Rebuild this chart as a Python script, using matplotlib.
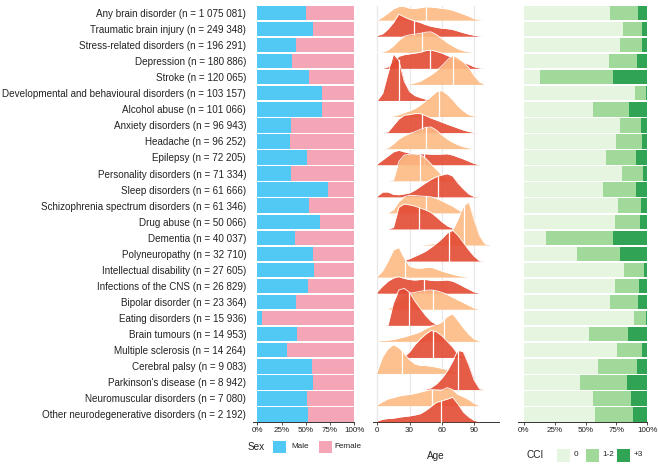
import matplotlib
matplotlib.use("Agg")
import matplotlib.pyplot as plt
import numpy as np
from matplotlib.patches import Rectangle

plt.rcParams["font.family"] = ["Liberation Sans", "DejaVu Sans"]

disorders = [
    "Any brain disorder", "Traumatic brain injury", "Stress-related disorders",
    "Depression", "Stroke", "Developmental and behavioural disorders",
    "Alcohol abuse", "Anxiety disorders", "Headache", "Epilepsy",
    "Personality disorders", "Sleep disorders", "Schizophrenia spectrum disorders",
    "Drug abuse", "Dementia", "Polyneuropathy", "Intellectual disability",
    "Infections of the CNS", "Bipolar disorder", "Eating disorders",
    "Brain tumours", "Multiple sclerosis", "Cerebral palsy",
    "Parkinson's disease", "Neuromuscular disorders",
    "Other neurodegenerative disorders",
]
n_cases = [1075081, 249348, 196291, 180886, 120065, 103157, 101066, 96943,
           96252, 72205, 71334, 61666, 61346, 50066, 40037, 32710, 27605,
           26829, 23364, 15936, 14953, 14264, 9083, 8942, 7080, 2192]

male_pct = [50.2, 57.4, 39.5, 35.7, 53.3, 66.7, 66.5, 34.7, 33.3, 51.2, 34.4,
            72.9, 53.3, 64.6, 38.8, 57.7, 58.4, 52.2, 40.2, 4.5, 41.2, 30.9,
            56.4, 57.0, 51.5, 51.9]
female_pct = [49.8, 42.6, 60.5, 64.3, 46.7, 33.3, 33.5, 65.3, 66.7, 48.8, 65.6,
              27.1, 46.7, 35.4, 61.2, 42.3, 41.6, 47.8, 59.8, 95.5, 58.8, 69.1,
              43.6, 43.0, 48.5, 48.1]

cci_0 = [70.0, 80.5, 78.1, 68.9, 13.0, 89.7, 55.7, 77.8, 74.9, 66.5, 79.2,
         64.3, 76.2, 73.5, 17.8, 42.7, 81.1, 73.5, 70.0, 88.9, 52.7, 75.7,
         59.7, 45.7, 55.9, 57.3]
cci_12 = [22.4, 15.4, 17.6, 23.0, 59.2, 9.2, 29.4, 17.3, 20.5, 24.3, 17.0,
          26.5, 18.7, 20.6, 54.6, 35.1, 16.2, 19.7, 22.4, 10.0, 31.9, 19.7,
          31.7, 37.8, 31.1, 31.3]
cci_3 = [7.6, 4.1, 4.3, 8.1, 27.8, 1.1, 14.9, 4.9, 4.6, 9.2, 3.8, 9.2, 5.1,
         5.9, 27.6, 22.2, 2.7, 6.8, 7.6, 1.1, 15.4, 4.6, 8.6, 16.5, 13.0, 11.4]
cci_labels = ["0", "1-2", "+3"]

# age density per disorder (height in row units) at 0, 5, ..., 105 years
age_grid = [0, 5, 10, 15, 20, 25, 30, 35, 40, 45, 50, 55, 60, 65, 70, 75,
            80, 85, 90, 95, 100, 105]
age_density = [
    [0, 0.2, 0.45, 0.7, 0.85, 0.85, 0.75, 0.72, 0.78, 0.83, 0.82, 0.78, 0.74, 0.7, 0.62, 0.5, 0.38, 0.25, 0.1, 0.02, 0, 0],
    [0.05, 0.15, 0.45, 0.85, 1.37, 1.2, 1.05, 0.95, 0.85, 0.72, 0.62, 0.55, 0.5, 0.47, 0.42, 0.32, 0.22, 0.13, 0.06, 0.01, 0, 0],
    [0, 0.02, 0.15, 0.4, 0.75, 1.0, 1.08, 1.12, 1.18, 1.25, 1.27, 1.1, 0.85, 0.6, 0.4, 0.22, 0.1, 0.03, 0, 0, 0, 0],
    [0, 0, 0.1, 0.45, 0.75, 0.85, 0.9, 0.95, 1.0, 1.1, 1.13, 1.05, 0.95, 0.8, 0.68, 0.52, 0.38, 0.25, 0.1, 0.02, 0, 0],
    [0, 0, 0, 0, 0, 0, 0.02, 0.1, 0.2, 0.4, 0.6, 0.85, 1.15, 1.5, 1.82, 1.65, 1.4, 1.05, 0.55, 0.15, 0, 0],
    [0, 0.45, 1.7, 2.9, 2.5, 1.2, 0.55, 0.3, 0.18, 0.08, 0.03, 0, 0, 0, 0, 0, 0, 0, 0, 0, 0, 0],
    [0, 0, 0, 0.03, 0.12, 0.25, 0.35, 0.5, 0.72, 0.98, 1.25, 1.55, 1.62, 1.38, 1.05, 0.65, 0.35, 0.12, 0.03, 0, 0, 0],
    [0, 0, 0.05, 0.45, 0.85, 1.08, 1.12, 1.18, 1.18, 1.05, 0.9, 0.78, 0.65, 0.52, 0.4, 0.28, 0.16, 0.07, 0.01, 0, 0, 0],
    [0, 0, 0.05, 0.3, 0.6, 0.8, 0.95, 1.05, 1.2, 1.32, 1.35, 1.15, 0.85, 0.6, 0.4, 0.25, 0.12, 0.05, 0, 0, 0, 0],
    [0.05, 0.3, 0.55, 0.8, 0.9, 0.8, 0.72, 0.68, 0.68, 0.68, 0.65, 0.65, 0.66, 0.68, 0.6, 0.48, 0.36, 0.22, 0.08, 0, 0, 0],
    [0, 0, 0, 0.05, 1.2, 1.6, 1.65, 1.66, 1.62, 1.4, 1.05, 0.7, 0.35, 0.18, 0.08, 0.03, 0, 0, 0, 0, 0, 0],
    [0.05, 0.3, 0.3, 0.15, 0.13, 0.18, 0.25, 0.42, 0.65, 0.88, 1.08, 1.25, 1.36, 1.44, 1.3, 0.85, 0.5, 0.18, 0.02, 0, 0, 0],
    [0, 0, 0, 0.2, 0.7, 1.0, 1.1, 1.08, 1.05, 1.03, 1.0, 0.9, 0.75, 0.58, 0.42, 0.2, 0.05, 0, 0, 0, 0, 0],
    [0, 0, 0, 0.1, 1.35, 1.55, 1.5, 1.42, 1.3, 1.18, 1.02, 0.75, 0.45, 0.2, 0.05, 0, 0, 0, 0, 0, 0, 0],
    [0, 0, 0, 0, 0, 0, 0, 0, 0, 0.03, 0.07, 0.12, 0.2, 0.4, 0.9, 1.6, 2.4, 2.7, 1.6, 0.6, 0.08, 0],
    [0, 0, 0, 0, 0, 0.05, 0.15, 0.3, 0.45, 0.62, 0.85, 1.1, 1.4, 1.75, 1.92, 1.6, 1.15, 0.7, 0.3, 0.02, 0, 0],
    [0.05, 0.4, 1.0, 1.7, 1.85, 1.2, 0.68, 0.58, 0.55, 0.6, 0.62, 0.5, 0.38, 0.28, 0.18, 0.1, 0.04, 0, 0, 0, 0, 0],
    [0.1, 0.45, 0.75, 0.95, 1.03, 0.92, 0.85, 0.82, 0.85, 0.85, 0.8, 0.78, 0.8, 0.82, 0.75, 0.6, 0.42, 0.25, 0.08, 0, 0, 0],
    [0, 0, 0, 0.25, 0.65, 0.9, 1.0, 1.05, 1.12, 1.18, 1.2, 1.15, 1.05, 0.92, 0.75, 0.58, 0.42, 0.25, 0.08, 0, 0, 0],
    [0, 0, 0.02, 1.4, 2.2, 2.3, 2.05, 1.5, 1.05, 0.6, 0.25, 0.05, 0, 0, 0, 0, 0, 0, 0, 0, 0, 0],
    [0.02, 0.05, 0.08, 0.12, 0.2, 0.28, 0.38, 0.48, 0.6, 0.8, 0.95, 1.05, 1.2, 1.55, 1.72, 1.3, 0.85, 0.45, 0.15, 0.02, 0, 0],
    [0, 0, 0, 0, 0, 0.05, 0.35, 0.8, 1.15, 1.45, 1.68, 1.6, 1.35, 1.0, 0.65, 0.2, 0.03, 0, 0, 0, 0, 0],
    [0.15, 1.05, 1.55, 1.8, 1.6, 1.25, 0.85, 0.6, 0.5, 0.5, 0.45, 0.4, 0.32, 0.25, 0.15, 0.05, 0, 0, 0, 0, 0, 0],
    [0, 0, 0, 0, 0, 0, 0, 0, 0, 0.02, 0.12, 0.35, 0.7, 1.15, 1.75, 2.45, 2.35, 1.55, 0.6, 0.05, 0, 0],
    [0.05, 0.25, 0.42, 0.5, 0.6, 0.66, 0.7, 0.76, 0.85, 0.93, 1.0, 0.98, 0.97, 1.12, 1.0, 0.7, 0.55, 0.38, 0.15, 0, 0, 0],
    [0.05, 0.15, 0.2, 0.22, 0.28, 0.32, 0.36, 0.42, 0.5, 0.7, 0.95, 1.2, 1.3, 1.4, 1.52, 1.1, 0.6, 0.3, 0.08, 0, 0, 0],
]
age_median = [45.7, 34.3, 42, 48.8, 70.5, 20, 57.2, 41.7, 45, 43.6, 39.6, 56,
              45, 39, 81, 66.7, 25.6, 43, 52, 29.7, 61.8, 52, 22.6, 75, 51.3, 59.6]

MALE, FEMALE = "#52C8F5", "#F4A6B7"
LIGHT, DARK = "#FDBB84", "#E34A33"
GREENS = ["#E5F5E0", "#A1D99B", "#31A354"]
INK = "#222222"

W, H = 658, 467
fig = plt.figure(figsize=(W / 100, H / 100), dpi=100)


def px_axes(x0, x1, y0=5.7, y1=421.7):
    return fig.add_axes([x0 / W, 1 - y1 / H, (x1 - x0) / W, (y1 - y0) / H])


def fig_box(x0, y0, w, h, color):
    fig.patches.append(Rectangle((x0 / W, 1 - (y0 + h) / H), w / W, h / H,
                                 transform=fig.transFigure, color=color, lw=0))


def fig_label(x, y, s, size, ha="left"):
    fig.text(x / W, 1 - y / H, s, fontsize=size, ha=ha, va="center", color=INK)


rows = np.arange(len(disorders))
ax_sex = px_axes(252.7, 354.3)
ax_age = px_axes(372.7, 499.3)
ax_cci = px_axes(517.7, 647.3)

for ax in (ax_sex, ax_age, ax_cci):
    ax.set_ylim(25.45, -0.45)
    for s in ("top", "right", "left"):
        ax.spines[s].set_visible(False)
    ax.spines["bottom"].set_color("#333333")
    ax.spines["bottom"].set_linewidth(0.7)
    ax.tick_params(axis="x", length=2, width=0.6, labelsize=5.8, pad=1.5,
                   color="#333333", labelcolor=INK)
    ax.set_facecolor("none")

# sex
male = np.array(male_pct) / 100
female = np.array(female_pct) / 100
ax_sex.barh(rows, male, height=0.9, color=MALE, lw=0)
ax_sex.barh(rows, female, left=male, height=0.9, color=FEMALE, lw=0)
ax_sex.set_xlim(-0.047, 1.0)
pct_ticks = [0, 0.25, 0.5, 0.75, 1.0]
pct_labels = ["0%", "25%", "50%", "75%", "100%"]
ax_sex.set_xticks(pct_ticks, pct_labels)
labels = [f"{d} (n = {n:,})".replace(",", " ") for d, n in zip(disorders, n_cases)]
ax_sex.set_yticks(rows, labels)
ax_sex.tick_params(axis="y", length=0, pad=4.7, labelsize=7.1, labelcolor=INK)

# age ridges
ages = np.array(age_grid, float)
ax_age.set_xlim(-4.3, 113.5)
ax_age.set_xticks([0, 30, 60, 90])
ax_age.set_yticks([])
for t in (0, 30, 60, 90):
    ax_age.axvline(t, color="#E8E8E8", lw=0.9, zorder=0)
for i, dens in enumerate(age_density):
    h = np.array(dens, float)
    base = i + 0.45
    nz = np.nonzero(h)[0]
    lo, hi = max(nz[0] - 1, 0), min(nz[-1] + 1, len(h) - 1)
    x, y = ages[lo:hi + 1], h[lo:hi + 1]
    col = LIGHT if i % 2 == 0 else DARK
    z = 2 + i * 0.1
    ax_age.fill_between(x, base, base - y, color=col, alpha=0.9, lw=0,
                        zorder=z, clip_on=False)
    ax_age.plot(x, base - y, color="white", lw=0.6, zorder=z + 0.03, clip_on=False)
    m = age_median[i]
    ax_age.plot([m, m], [base, base - np.interp(m, ages, h)], color="white",
                lw=0.9, zorder=z + 0.05, clip_on=False)

# CCI
c0 = np.array(cci_0) / 100
c12 = np.array(cci_12) / 100
c3 = np.array(cci_3) / 100
ax_cci.barh(rows, c0, height=0.9, color=GREENS[0], lw=0)
ax_cci.barh(rows, c12, left=c0, height=0.9, color=GREENS[1], lw=0)
ax_cci.barh(rows, c3, left=c0 + c12, height=0.9, color=GREENS[2], lw=0)
ax_cci.set_xlim(-0.051, 1.0)
ax_cci.set_xticks(pct_ticks, pct_labels)
ax_cci.set_yticks([])

# legends
fig_label(248, 446.7, "Sex", 7.2)
fig_box(273, 440.7, 13, 12, MALE)
fig_label(291.5, 446.7, "Male", 5.9)
fig_box(318.5, 440.7, 13, 12, FEMALE)
fig_label(334.5, 446.7, "Female", 5.9)

fig_label(435.7, 455.7, "Age", 7.2, ha="center")

fig_label(526.5, 455.0, "CCI", 7.2)
for x0, col, lab in zip((556.5, 585.5, 616.5), GREENS, cci_labels):
    fig_box(x0, 448.5, 13, 13, col)
    fig_label(x0 + 17, 455.0, lab, 5.9)

fig.savefig("out.png", dpi=100)
